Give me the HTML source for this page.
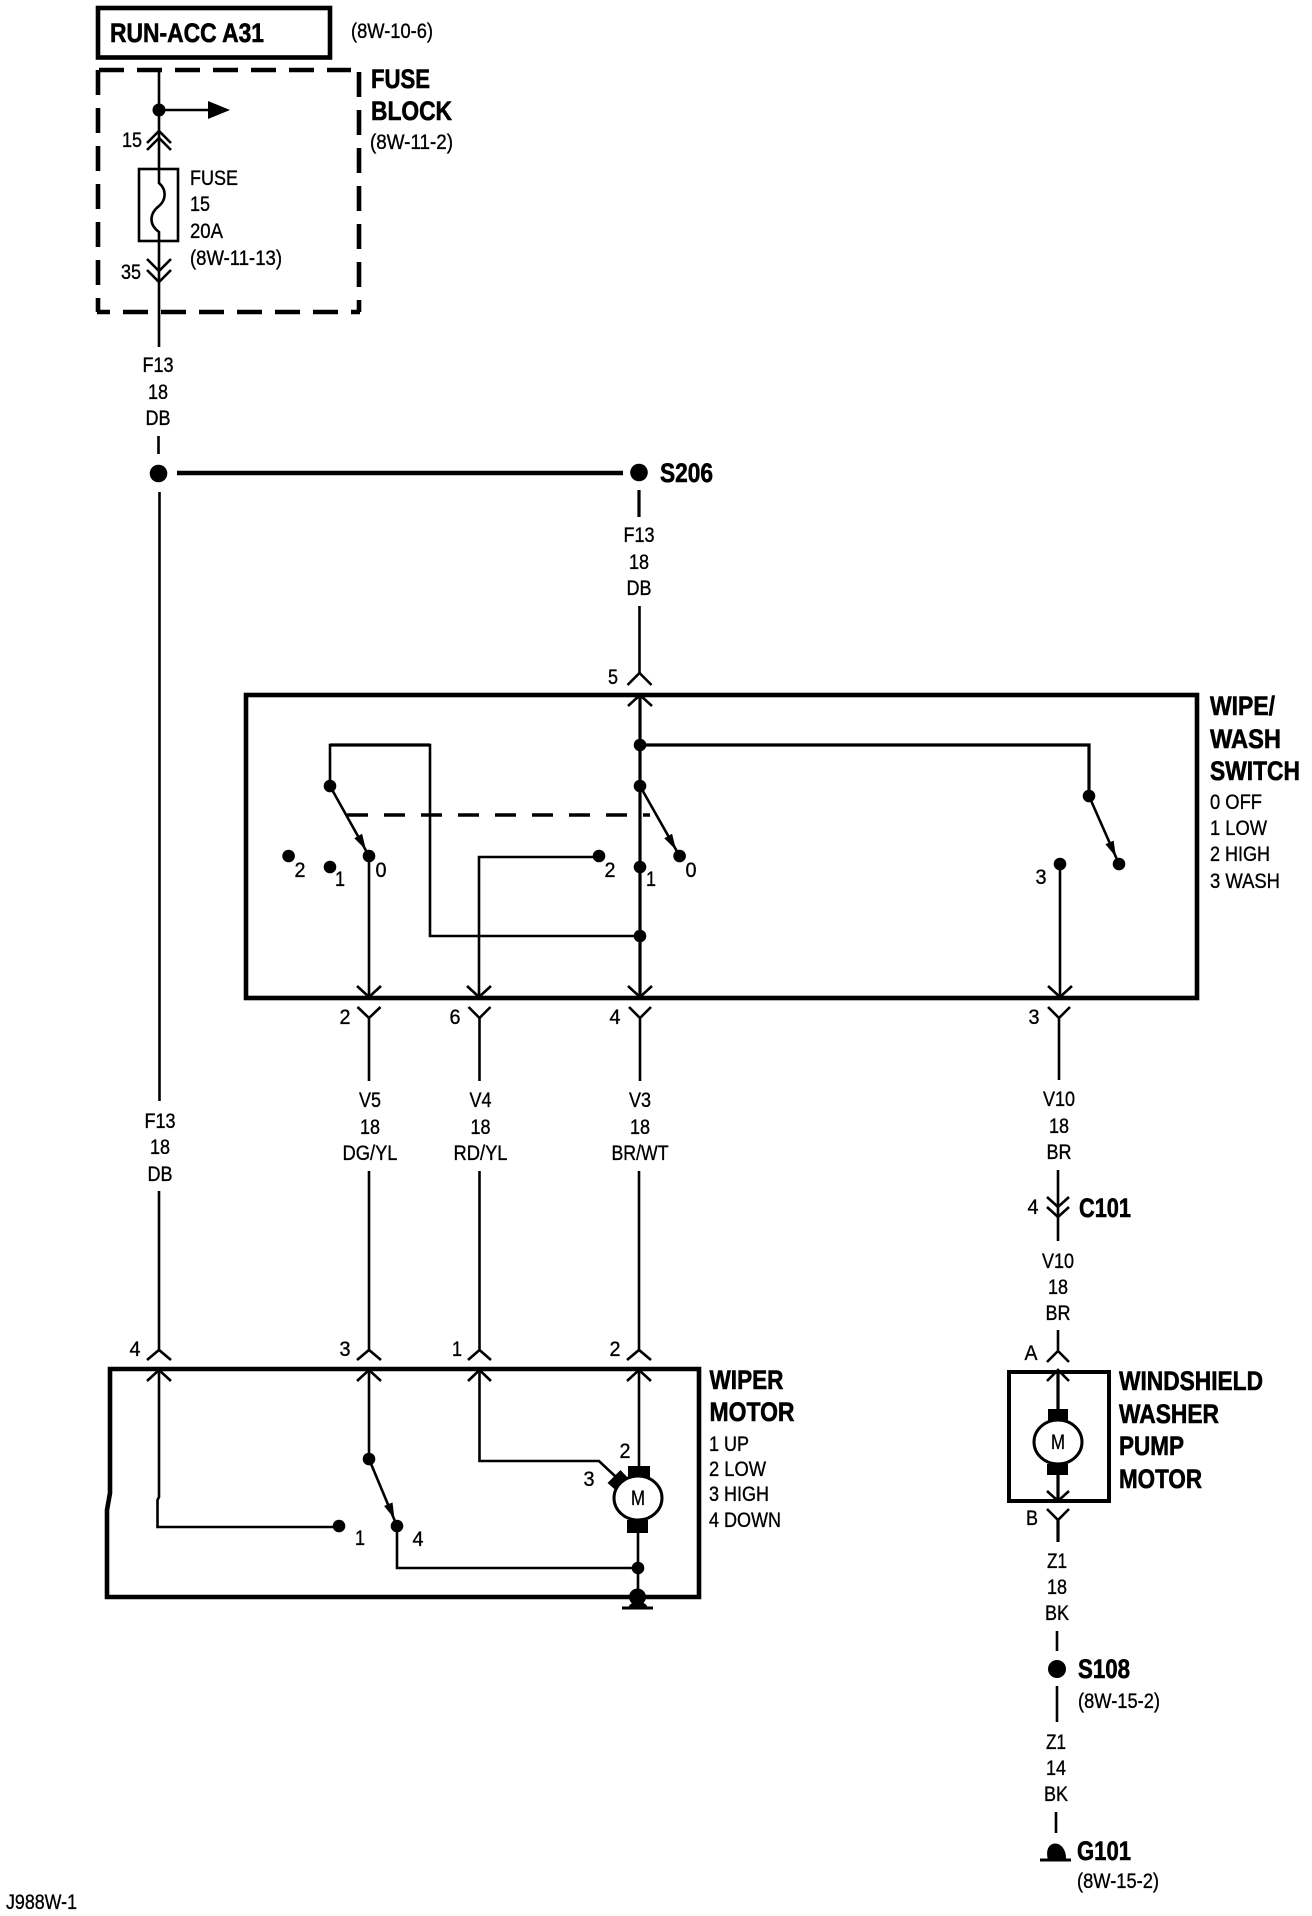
<!DOCTYPE html>
<html><head><meta charset="utf-8"><style>
html,body{margin:0;padding:0;background:#fff}
svg{display:block}
text{font-family:"Liberation Sans",sans-serif;fill:#000;font-size:21px;stroke:#000;stroke-width:.35}
.b{font-weight:bold;font-size:27px;stroke-width:.6}
.c{text-anchor:middle}
.w{fill:none;stroke:#000;stroke-width:2.6}
.t{fill:none;stroke:#000;stroke-width:3.2}
.box{fill:none;stroke:#000;stroke-width:4.6}
.d{fill:none;stroke:#000;stroke-width:4.6;stroke-dasharray:25 13}
</style></head><body>
<svg xmlns="http://www.w3.org/2000/svg" width="1312" height="1916" viewBox="0 0 1312 1916">
<rect width="1312" height="1916" fill="#fff"/>

<!-- top -->
<rect x="98" y="8" width="232" height="49.500" class="box"/>
<text class="b" x="110" y="42" textLength="154" lengthAdjust="spacingAndGlyphs">RUN-ACC A31</text>
<text x="351" y="38" textLength="82" lengthAdjust="spacingAndGlyphs">(8W-10-6)</text>
<path d="M99 70H351" class="d"/><path d="M359 72V312" class="d"/><path d="M98 70V312" class="d"/>
<path d="M97 312H360" class="d" stroke-dashoffset="12"/>
<text class="b" x="371" y="88" textLength="59" lengthAdjust="spacingAndGlyphs">FUSE</text>
<text class="b" x="371" y="120" textLength="81" lengthAdjust="spacingAndGlyphs">BLOCK</text>
<text x="370" y="149" textLength="83" lengthAdjust="spacingAndGlyphs">(8W-11-2)</text>
<path d="M159 70V183C167 190 166 200 159 206C150 213 148 224 159 232V347" class="w"/>
<circle cx="159" cy="110" r="6.500"/>
<path d="M159 110H212" class="w"/><path d="M208 101L230 110L208 119Z"/>
<path d="M147 143L159 131L171 143M147 150L159 138L171 150" class="w"/>
<rect x="139" y="169" width="39" height="72" class="w"/>
<path d="M147 259L159 271L171 259M147 270L159 282L171 270" class="w"/>
<text class="c" x="132" y="147" textLength="20" lengthAdjust="spacingAndGlyphs">15</text>
<text class="c" x="131" y="279" textLength="20" lengthAdjust="spacingAndGlyphs">35</text>
<text x="190" y="185" textLength="48" lengthAdjust="spacingAndGlyphs">FUSE</text>
<text x="190" y="211" textLength="20" lengthAdjust="spacingAndGlyphs">15</text>
<text x="190" y="238" textLength="33" lengthAdjust="spacingAndGlyphs">20A</text>
<text x="190" y="265" textLength="92" lengthAdjust="spacingAndGlyphs">(8W-11-13)</text>
<text class="c" x="158" y="372" textLength="31" lengthAdjust="spacingAndGlyphs">F13</text>
<text class="c" x="158" y="399" textLength="20" lengthAdjust="spacingAndGlyphs">18</text>
<text class="c" x="158" y="425" textLength="25" lengthAdjust="spacingAndGlyphs">DB</text>
<path d="M158.500 436V454" class="w"/>
<circle cx="158.500" cy="473.500" r="8.800"/>
<path d="M177 473H623" fill="none" stroke="#000" stroke-width="4.400"/>
<circle cx="639" cy="472.500" r="8.800"/>
<text class="b" x="660" y="482" textLength="53" lengthAdjust="spacingAndGlyphs">S206</text>
<path d="M639 490V517" class="t"/>
<text class="c" x="639" y="542" textLength="31" lengthAdjust="spacingAndGlyphs">F13</text>
<text class="c" x="639" y="569" textLength="20" lengthAdjust="spacingAndGlyphs">18</text>
<text class="c" x="639" y="595" textLength="25" lengthAdjust="spacingAndGlyphs">DB</text>
<path d="M639.500 606V673" class="w"/>
<path d="M627.500 685L639.500 673L651.500 685" class="w"/>
<text class="c" x="613" y="684" textLength="10" lengthAdjust="spacingAndGlyphs">5</text>
<path d="M159.500 492V1101M159 1191V1350" class="w"/>

<!-- switch box -->
<rect x="246" y="695" width="951" height="303" class="box"/>
<path d="M628 706L640 695L652 706" class="w"/>
<path d="M640 695V936V997" class="t"/>
<path d="M640 745H1089V796" class="t"/>
<path d="M330 786V745H430V936H640" class="w"/>
<path d="M330 745H430" class="t"/>
<circle cx="640" cy="745" r="6.300"/><circle cx="640" cy="786" r="6.300"/><circle cx="330" cy="786" r="6.300"/><circle cx="1089" cy="796" r="6.300"/>
<circle cx="640" cy="936" r="6.300"/>
<path d="M330 786L369 856M640 786L679.600 856M1089 796L1119 864" class="w"/>
<path d="M366 850L362.100 833.800L354.300 838.200Z M676 850L672.100 833.800L664.300 838.200Z M1116 857L1113.600 840.600L1105.400 844.200Z"/>
<path d="M347 815H650" fill="none" stroke="#000" stroke-width="3.400" stroke-dasharray="21 16"/>
<circle cx="369" cy="856" r="6.300"/><circle cx="679.600" cy="856" r="6.300"/><circle cx="1119" cy="864" r="6.300"/>
<circle cx="288.600" cy="856" r="6.300"/><circle cx="330" cy="867" r="6.300"/>
<circle cx="599" cy="856" r="6.300"/><circle cx="640" cy="867" r="6.300"/><circle cx="1060" cy="864" r="6.300"/>
<path d="M369 856V997M479 997V857H599M1060 864V997" class="w"/>
<text class="c" x="300" y="877" textLength="11" lengthAdjust="spacingAndGlyphs">2</text>
<text class="c" x="340" y="886" textLength="10" lengthAdjust="spacingAndGlyphs">1</text>
<text class="c" x="381" y="877" textLength="11" lengthAdjust="spacingAndGlyphs">0</text>
<text class="c" x="610" y="877" textLength="11" lengthAdjust="spacingAndGlyphs">2</text>
<text class="c" x="651" y="886" textLength="10" lengthAdjust="spacingAndGlyphs">1</text>
<text class="c" x="691" y="877" textLength="11" lengthAdjust="spacingAndGlyphs">0</text>
<text class="c" x="1041" y="884" textLength="11" lengthAdjust="spacingAndGlyphs">3</text>
<path d="M357 986L369 997L381 986M467 986L479 997L491 986M628 986L640 997L652 986M1048 986L1060 997L1072 986" class="w"/>
<path d="M357.500 1007L369 1018L380.500 1007M468.500 1007L479.500 1018L490.500 1007M629 1007L640 1018L651 1007M1048 1007L1059 1018L1070 1007" class="w"/>
<path d="M369 1018V1081M479.500 1018V1081M640 1018V1081M1059 1018V1080" class="w"/>
<text class="c" x="345" y="1024" textLength="11" lengthAdjust="spacingAndGlyphs">2</text>
<text class="c" x="455" y="1024" textLength="11" lengthAdjust="spacingAndGlyphs">6</text>
<text class="c" x="615" y="1024" textLength="11" lengthAdjust="spacingAndGlyphs">4</text>
<text class="c" x="1034" y="1024" textLength="11" lengthAdjust="spacingAndGlyphs">3</text>
<text class="b" x="1210" y="715" textLength="65" lengthAdjust="spacingAndGlyphs">WIPE/</text>
<text class="b" x="1210" y="748" textLength="71" lengthAdjust="spacingAndGlyphs">WASH</text>
<text class="b" x="1210" y="780" textLength="90" lengthAdjust="spacingAndGlyphs">SWITCH</text>
<text x="1210" y="809" textLength="52" lengthAdjust="spacingAndGlyphs">0 OFF</text>
<text x="1210" y="835" textLength="57" lengthAdjust="spacingAndGlyphs">1 LOW</text>
<text x="1210" y="861" textLength="60" lengthAdjust="spacingAndGlyphs">2 HIGH</text>
<text x="1210" y="888" textLength="70" lengthAdjust="spacingAndGlyphs">3 WASH</text>

<!-- middle labels -->
<text class="c" x="160" y="1128" textLength="31" lengthAdjust="spacingAndGlyphs">F13</text>
<text class="c" x="160" y="1154" textLength="20" lengthAdjust="spacingAndGlyphs">18</text>
<text class="c" x="160" y="1181" textLength="25" lengthAdjust="spacingAndGlyphs">DB</text>
<text class="c" x="370" y="1107" textLength="22" lengthAdjust="spacingAndGlyphs">V5</text>
<text class="c" x="370" y="1134" textLength="20" lengthAdjust="spacingAndGlyphs">18</text>
<text class="c" x="370" y="1160" textLength="55" lengthAdjust="spacingAndGlyphs">DG/YL</text>
<text class="c" x="480.500" y="1107" textLength="22" lengthAdjust="spacingAndGlyphs">V4</text>
<text class="c" x="480.500" y="1134" textLength="20" lengthAdjust="spacingAndGlyphs">18</text>
<text class="c" x="480.500" y="1160" textLength="54" lengthAdjust="spacingAndGlyphs">RD/YL</text>
<text class="c" x="640" y="1107" textLength="22" lengthAdjust="spacingAndGlyphs">V3</text>
<text class="c" x="640" y="1134" textLength="20" lengthAdjust="spacingAndGlyphs">18</text>
<text class="c" x="640" y="1160" textLength="57" lengthAdjust="spacingAndGlyphs">BR/WT</text>
<path d="M369 1171V1350M479.500 1171V1350M639 1171V1350" class="w"/>

<!-- C101 -->
<text class="c" x="1059" y="1106" textLength="32" lengthAdjust="spacingAndGlyphs">V10</text>
<text class="c" x="1059" y="1133" textLength="20" lengthAdjust="spacingAndGlyphs">18</text>
<text class="c" x="1059" y="1159" textLength="25" lengthAdjust="spacingAndGlyphs">BR</text>
<path d="M1058 1170V1241" class="w"/>
<path d="M1047 1197L1058 1207L1069 1197M1047 1207L1058 1217L1069 1207" class="w"/>
<text class="c" x="1033" y="1214" textLength="11" lengthAdjust="spacingAndGlyphs">4</text>
<text class="b" x="1079" y="1217" textLength="52" lengthAdjust="spacingAndGlyphs">C101</text>
<text class="c" x="1058" y="1268" textLength="32" lengthAdjust="spacingAndGlyphs">V10</text>
<text class="c" x="1058" y="1294" textLength="20" lengthAdjust="spacingAndGlyphs">18</text>
<text class="c" x="1058" y="1320" textLength="25" lengthAdjust="spacingAndGlyphs">BR</text>
<path d="M1058 1330V1350" class="w"/>

<!-- wiper motor -->
<path d="M110 1369H699V1597H107V1510L110 1493V1369Z" class="box"/>
<path d="M147 1360L159 1350L171 1360M357 1360L369 1350L381 1360M468 1360L479.500 1350L491 1360M627 1360L639 1350L651 1360" class="w"/>
<path d="M147 1381L159 1370L171 1381M357 1381L369 1370L381 1381M468 1381L479.500 1370L491 1381M627 1381L639 1370L651 1381" class="w"/>
<text class="c" x="135" y="1356" textLength="11" lengthAdjust="spacingAndGlyphs">4</text>
<text class="c" x="345" y="1356" textLength="11" lengthAdjust="spacingAndGlyphs">3</text>
<text class="c" x="457" y="1356" textLength="10" lengthAdjust="spacingAndGlyphs">1</text>
<text class="c" x="615" y="1356" textLength="11" lengthAdjust="spacingAndGlyphs">2</text>
<path d="M159 1370V1497L157.500 1500V1527H339" class="w"/>
<circle cx="339" cy="1526" r="6.300"/>
<path d="M369 1370V1459L397 1526" class="w"/>
<circle cx="369" cy="1459" r="6.300"/><circle cx="397" cy="1526" r="6.300"/>
<path d="M394.500 1519L392.500 1502.400L384.100 1506Z"/>
<path d="M479.500 1370V1461H599L616 1477" class="w"/>
<path d="M639 1370V1467" class="w"/>
<path d="M397 1526V1568H638" class="w"/>
<path d="M638 1532V1597" class="w"/>
<circle cx="638" cy="1568" r="6.300"/>
<text class="c" x="360" y="1545" textLength="10" lengthAdjust="spacingAndGlyphs">1</text>
<text class="c" x="418" y="1546" textLength="11" lengthAdjust="spacingAndGlyphs">4</text>
<text class="c" x="625" y="1458" textLength="11" lengthAdjust="spacingAndGlyphs">2</text>
<text class="c" x="589" y="1486" textLength="11" lengthAdjust="spacingAndGlyphs">3</text>
<rect x="628" y="1466" width="22" height="13"/>
<rect x="627" y="1520" width="21" height="13"/>
<path d="M607.500 1483L620.500 1470L628 1478L615.500 1490Z"/>
<ellipse cx="638" cy="1498" rx="24" ry="22" fill="#fff" stroke="#000" stroke-width="3"/>
<text class="c" x="638" y="1505" textLength="14" lengthAdjust="spacingAndGlyphs">M</text>
<circle cx="637.500" cy="1597" r="8.500"/>
<path d="M628.500 1608C628.500 1600 647.500 1600 647.500 1608Z"/>
<path d="M622 1608H653" fill="none" stroke="#000" stroke-width="3"/>
<text class="b" x="709.500" y="1389" textLength="74" lengthAdjust="spacingAndGlyphs">WIPER</text>
<text class="b" x="709.500" y="1421" textLength="85" lengthAdjust="spacingAndGlyphs">MOTOR</text>
<text x="709" y="1451" textLength="40" lengthAdjust="spacingAndGlyphs">1 UP</text>
<text x="709" y="1476" textLength="57" lengthAdjust="spacingAndGlyphs">2 LOW</text>
<text x="709" y="1501" textLength="60" lengthAdjust="spacingAndGlyphs">3 HIGH</text>
<text x="709" y="1527" textLength="72" lengthAdjust="spacingAndGlyphs">4 DOWN</text>

<!-- washer pump -->
<rect x="1009" y="1372" width="100" height="129" fill="none" stroke="#000" stroke-width="4"/>
<path d="M1047 1362L1058 1351L1069 1362M1047 1381L1058 1370L1069 1381" class="w"/>
<path d="M1058 1370V1412M1058 1472V1500" class="t"/>
<rect x="1048" y="1409" width="20" height="12"/>
<rect x="1047" y="1464" width="21" height="11"/>
<ellipse cx="1058" cy="1442" rx="24" ry="22" fill="#fff" stroke="#000" stroke-width="3"/>
<text class="c" x="1058" y="1449" textLength="14" lengthAdjust="spacingAndGlyphs">M</text>
<path d="M1047 1491L1058 1501L1069 1491" class="w"/>
<path d="M1047 1509L1058 1520L1069 1509" class="w"/>
<path d="M1058 1520V1542" class="t"/>
<text class="c" x="1031" y="1360" textLength="13" lengthAdjust="spacingAndGlyphs">A</text>
<text class="c" x="1032" y="1525" textLength="12" lengthAdjust="spacingAndGlyphs">B</text>
<text class="b" x="1119" y="1390" textLength="144" lengthAdjust="spacingAndGlyphs">WINDSHIELD</text>
<text class="b" x="1119" y="1423" textLength="100" lengthAdjust="spacingAndGlyphs">WASHER</text>
<text class="b" x="1119" y="1455" textLength="65" lengthAdjust="spacingAndGlyphs">PUMP</text>
<text class="b" x="1119" y="1488" textLength="83" lengthAdjust="spacingAndGlyphs">MOTOR</text>
<text class="c" x="1057" y="1568" textLength="20" lengthAdjust="spacingAndGlyphs">Z1</text>
<text class="c" x="1057" y="1594" textLength="20" lengthAdjust="spacingAndGlyphs">18</text>
<text class="c" x="1057" y="1620" textLength="24" lengthAdjust="spacingAndGlyphs">BK</text>
<path d="M1057 1631V1651" class="w"/>
<ellipse cx="1057" cy="1669" rx="9" ry="9"/>
<text class="b" x="1078" y="1678" textLength="52" lengthAdjust="spacingAndGlyphs">S108</text>
<text x="1078" y="1708" textLength="82" lengthAdjust="spacingAndGlyphs">(8W-15-2)</text>
<path d="M1057 1686V1722" class="w"/>
<text class="c" x="1056" y="1749" textLength="20" lengthAdjust="spacingAndGlyphs">Z1</text>
<text class="c" x="1056" y="1775" textLength="20" lengthAdjust="spacingAndGlyphs">14</text>
<text class="c" x="1056" y="1801" textLength="24" lengthAdjust="spacingAndGlyphs">BK</text>
<path d="M1056 1812V1833" class="w"/>
<path d="M1048 1860C1042 1838 1067 1838 1066 1860Z"/>
<path d="M1040 1860H1071" fill="none" stroke="#000" stroke-width="3"/>
<text class="b" x="1077" y="1860" textLength="54" lengthAdjust="spacingAndGlyphs">G101</text>
<text x="1077" y="1888" textLength="82" lengthAdjust="spacingAndGlyphs">(8W-15-2)</text>

<text x="6" y="1909" textLength="71" lengthAdjust="spacingAndGlyphs">J988W-1</text>
</svg>
</body></html>
